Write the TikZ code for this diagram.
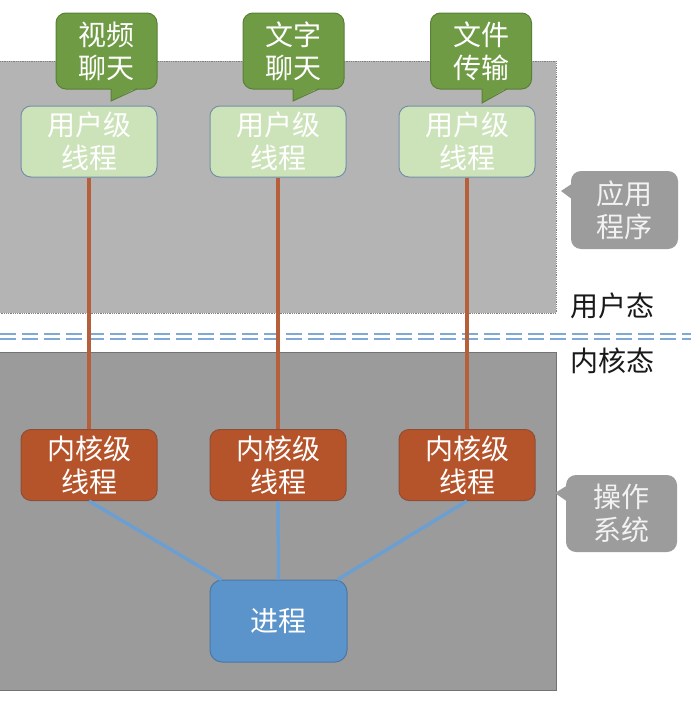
\documentclass[tikz,border=0pt]{standalone}
\usepackage{fontspec}
\newfontfamily\cjk{Noto Sans CJK SC}
\definecolor{upGrey}{HTML}{B4B4B4}
\definecolor{lowGrey}{HTML}{9B9B9B}
\definecolor{bubGreen}{HTML}{6F9B45}
\definecolor{bubLine}{HTML}{5A8036}
\definecolor{userFill}{HTML}{CCE3BA}
\definecolor{userLine}{HTML}{7590A8}
\definecolor{kernFill}{HTML}{B5542B}
\definecolor{kernLine}{HTML}{8E4E36}
\definecolor{procFill}{HTML}{5B93CB}
\definecolor{procLine}{HTML}{4C78A6}
\definecolor{brownLn}{HTML}{B5603A}
\definecolor{blueLn}{HTML}{6B9FD2}
\definecolor{dashBlue}{HTML}{80A8D4}
\definecolor{tagGrey}{HTML}{9C9C9C}
\tikzset{
  txt/.style={font=\cjk\fontsize{28}{33}\selectfont, align=center, inner sep=0pt},
  userbox/.style={txt, text=white, rounded corners=10pt, minimum width=136pt, minimum height=71pt, fill=userFill, draw=userLine, line width=1pt},
  kernbox/.style={txt, text=white, rounded corners=10pt, minimum width=136pt, minimum height=71pt, fill=kernFill, draw=kernLine, line width=1pt},
  procbox/.style={txt, text=white, rounded corners=12pt, minimum width=137pt, minimum height=82pt, fill=procFill, draw=procLine, line width=1pt},
  bubble/.style={txt, text=white, rounded corners=10pt, minimum width=101pt, minimum height=76pt, fill=bubGreen, draw=bubLine, line width=1pt},
  tag/.style={txt, text=white!95!black, rounded corners=10pt, fill=tagGrey},
  brownconn/.style={draw=brownLn, line width=3.5pt},
  blueconn/.style={draw=blueLn, line width=3.5pt},
  dashln/.style={draw=dashBlue, line width=2pt, dash pattern=on 16pt off 6pt},
}
\begin{document}
\begin{tikzpicture}[x=1pt,y=-1pt]
\useasboundingbox (0,0) rectangle (691,704);
\fill[white] (0,0) rectangle (691,704);
% regions
\fill[upGrey] (0,61) rectangle (556,313);
\draw[gray, densely dotted, line width=0.8pt] (0,61) -- (556,61) -- (556,313) -- (0,313);
\fill[lowGrey] (0,352) rectangle (556,690);
\draw[black!55, line width=0.8pt] (0,352) -- (556,352) -- (556,690) -- (0,690);
% boundary
\coordinate (dl1) at (0,334); \coordinate (dr1) at (691,334);
\coordinate (dl2) at (0,339); \coordinate (dr2) at (691,339);
\draw[dashln] (dl1) -- (dr1);
\draw[dashln] (dl2) -- (dr2);
% speech bubbles
\node[bubble] (b1) at (106.5,51) {视频\\聊天};
\node[bubble] (b2) at (293.5,51) {文字\\聊天};
\node[bubble] (b3) at (481,51) {文件\\传输};
\foreach \a/\b/\t in {111/137/101, 293/319/101, 482/507/103}{
  \fill[bubGreen] (\a,87.5) -- (\a,\t) -- (\b,87.5) -- cycle;
  \draw[bubLine, line width=1pt, line join=miter] (\a,89) -- (\a,\t) -- (\b,89);
}
% user-level threads
\node[userbox] (u1) at (89,141.5) {用户级\\线程};
\node[userbox] (u2) at (278,141.5) {用户级\\线程};
\node[userbox] (u3) at (467,141.5) {用户级\\线程};
% kernel-level threads
\node[kernbox] (k1) at (89,465) {内核级\\线程};
\node[kernbox] (k2) at (278,465) {内核级\\线程};
\node[kernbox] (k3) at (467,465) {内核级\\线程};
% process
\node[procbox] (p) at (278.5,621) {进程};
% connectors
\draw[brownconn] (u1.south) -- (k1.north);
\draw[brownconn] (u2.south) -- (k2.north);
\draw[brownconn] (u3.south) -- (k3.north);
\draw[blueconn] (k1.south) -- (p.144.5);
\draw[blueconn] (k2.south) -- (p.north);
\draw[blueconn] (k3.south) -- (p.35.5);
% side tags
\node[tag, minimum width=107pt, minimum height=78pt] (t1) at (624.5,210) {应用\\程序};
\fill[tagGrey] (573,183) -- (561,191) -- (573,200) -- cycle;
\node[tag, minimum width=111pt, minimum height=77pt] (t2) at (621.5,513.5) {操作\\系统};
\fill[tagGrey] (568,485) -- (555,493) -- (568,502) -- cycle;
% mode labels
\node[txt, text=black!90] (um) at (612,306) {用户态};
\node[txt, text=black!90] (km) at (612,361) {内核态};
\end{tikzpicture}
\end{document}
